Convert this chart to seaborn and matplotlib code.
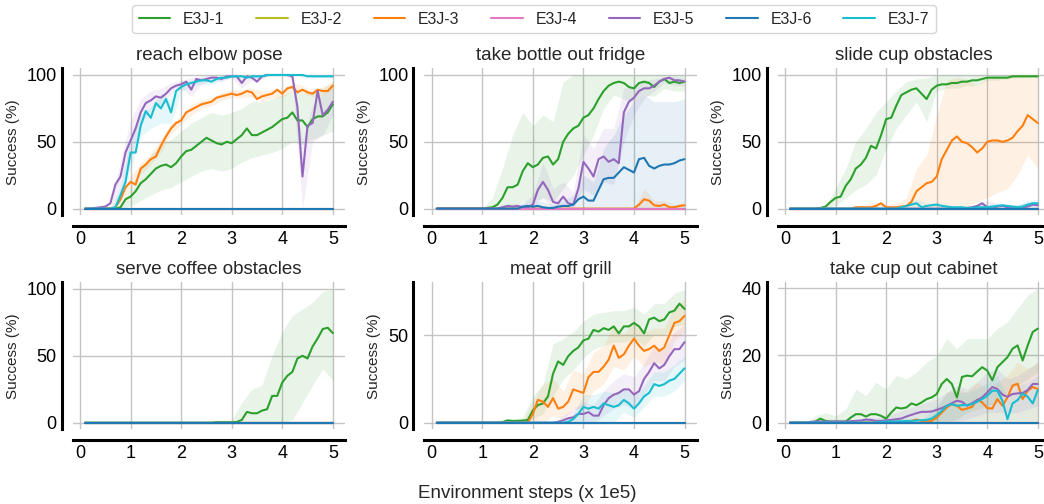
import numpy as np
import pandas as pd
import matplotlib
matplotlib.use("Agg")
import matplotlib.pyplot as plt
import seaborn as sns
from matplotlib.lines import Line2D

# ---------------------------------------------------------------- data
# environment steps (x 1e5) for the mean curves and for the spread bands
STEPS = np.round(np.arange(1, 51) * 0.1, 1)
BAND_STEPS = np.round(np.arange(1, 26) * 0.2, 1)

METHODS = ["E3J-1", "E3J-2", "E3J-3", "E3J-4", "E3J-5", "E3J-6", "E3J-7"]
TASKS = ["reach elbow pose", "take bottle out fridge", "slide cup obstacles",
         "serve coffee obstacles", "meat off grill", "take cup out cabinet"]

ZERO_LINE = [0.0] * 50
ZERO_BAND = [0.0] * 25

# reach elbow pose
REACH_E3J1 = [0, 0, 0, 0, 0, 0, 0, 1, 7, 9,
              13, 19, 22, 26, 30, 32, 33, 31, 34, 39,
              43, 44, 47, 50, 53, 51, 49, 48, 50, 49,
              52, 55, 60, 55, 55, 57, 59, 61, 64, 67,
              68, 72, 66, 66, 61, 67, 69, 69, 72, 78]
REACH_E3J3 = [0, 0, 0, 0, 0, 0, 1, 7, 16, 20,
              18, 30, 33, 37, 39, 47, 54, 60, 64, 66,
              72, 74, 76, 78, 79, 80, 83, 84, 85, 86,
              85, 86, 88, 87, 82, 84, 85, 86, 89, 86,
              90, 91, 87, 89, 87, 86, 89, 88, 88, 92]
REACH_E3J5 = [0, 0, 0.5, 1, 1.5, 4, 18, 24, 42, 51,
              60, 72, 79, 81, 84, 83, 86, 90, 92, 93,
              95, 89, 97, 96, 97, 98, 98, 97, 99, 99,
              99, 94, 99, 98, 95, 99, 100, 100, 100, 100,
              100, 99, 76, 24, 62, 64, 88, 70, 74, 80]
REACH_E3J7 = [0, 0, 0, 0, 0, 0, 1, 10, 20, 42,
              42, 62, 73, 68, 79, 75, 82, 72, 88, 91,
              93, 94, 95, 96, 96, 95, 97, 98, 98, 99,
              99, 99, 98, 99, 99, 99, 100, 100, 100, 100,
              100, 100, 100, 100, 99, 99, 99, 99, 99, 99]
REACH_E3J1_LO = [0, 0, 0, 0, 2, 6, 10, 14, 16, 20, 24, 28, 30, 28, 30,
                 35, 38, 40, 42, 45, 50, 48, 52, 55, 58]
REACH_E3J1_HI = [0, 0, 0, 3, 16, 30, 40, 48, 52, 58, 64, 68, 72, 70, 72,
                 75, 80, 80, 82, 85, 88, 86, 88, 90, 95]
REACH_E3J3_LO = [0, 0, 0, 4, 16, 26, 33, 42, 56, 63, 70, 75, 77, 81, 83,
                 83, 84, 80, 83, 83, 88, 86, 84, 85, 89]
REACH_E3J3_HI = [0, 0, 0, 10, 24, 34, 41, 52, 64, 69, 78, 81, 83, 87, 89,
                 89, 90, 88, 89, 89, 94, 92, 88, 91, 95]
REACH_E3J5_LO = [0, 0, 0, 12, 38, 62, 74, 78, 86, 90, 84, 93, 96, 95, 98,
                 90, 96, 97, 100, 100, 97, 0, 50, 55, 70]
REACH_E3J5_HI = [0, 0, 1, 36, 66, 82, 88, 90, 94, 96, 98, 99, 100, 99, 100,
                 98, 100, 100, 100, 100, 100, 50, 78, 86, 90]
REACH_E3J7_LO = [0, 0, 0, 4, 30, 54, 60, 64, 64, 87, 92, 93, 93, 96, 98,
                 98, 97, 98, 100, 100, 100, 99, 98, 98, 98]
REACH_E3J7_HI = [0, 0, 0, 16, 54, 70, 76, 86, 82, 95, 96, 98, 97, 99, 100,
                 100, 99, 100, 100, 100, 100, 100, 100, 100, 100]

# take bottle out fridge
BOTTLE_E3J1 = [0, 0, 0, 0, 0, 0, 0, 0, 0, 0,
               0.5, 1, 3, 8, 16, 16, 18, 28, 34, 31,
               33, 38, 39, 33, 37, 50, 56, 60, 62, 68,
               70, 75, 82, 88, 92, 94, 95, 94, 91, 90,
               94, 95, 94, 91, 95, 97, 94, 95, 94, 95]
BOTTLE_E3J3 = [0] * 40 + [3, 7, 6, 2.5, 2, 3, 1, 1, 2, 2.5]
BOTTLE_E3J5 = [0, 0, 0, 0, 0, 0, 0, 0, 0, 0,
               0, 0, 0, 1, 2, 1.5, 2, 1, 1, 3,
               14, 20, 14, 5, 4, 9, 4, 3, 15, 35,
               30, 24, 37, 39, 35, 37, 34, 72, 80, 83,
               88, 90, 90, 92, 95, 97, 98, 96, 96, 95]
BOTTLE_E3J6 = [0, 0, 0, 0, 0, 0, 0, 0, 0, 0,
               0, 0, 0, 0, 0, 0, 0, 1.5, 2, 1.5,
               2, 1, 0.5, 0.5, 1.5, 2, 2, 3, 7, 9,
               6, 6, 14, 22, 23, 23, 27, 31, 29, 27,
               37, 38, 32, 30, 32, 33, 33, 34, 36, 37]
BOTTLE_E3J1_LO = [0, 0, 0, 0, 0, 0, 0, 2, 5, 5, 8, 5, 15, 25, 40,
                  55, 75, 85, 82, 80, 85, 84, 90, 88, 88]
BOTTLE_E3J1_HI = [0, 0, 0, 0, 0, 8, 30, 55, 72, 62, 70, 65, 95, 100, 100,
                  100, 100, 100, 100, 100, 100, 100, 100, 100, 100]
BOTTLE_E3J3_HI = [0] * 20 + [15, 6, 6, 3, 5]
BOTTLE_E3J5_LO = [0, 0, 0, 0, 0, 0, 0, 0, 0, 0, 8, 0, 2, 0, 15,
                  10, 20, 18, 50, 70, 82, 88, 94, 92, 92]
BOTTLE_E3J5_HI = [0, 0, 0, 0, 0, 0, 3, 4, 4, 10, 35, 15, 20, 12, 55,
                  45, 60, 60, 90, 92, 96, 97, 99, 99, 98]
BOTTLE_E3J6_HI = [0, 0, 0, 0, 0, 0, 0, 0, 4, 6, 5, 3, 6, 10, 25,
                  20, 45, 55, 70, 80, 85, 80, 80, 80, 82]

# slide cup obstacles
SLIDE_E3J1 = [0, 0, 0, 0, 0, 0, 0.5, 1.5, 5, 8,
              9, 17, 22, 30, 33, 38, 47, 45, 55, 67,
              68, 77, 85, 87, 89, 90, 86, 82, 89, 92,
              93, 93, 94, 94, 95, 95, 96, 96, 97, 98,
              98, 98, 98, 98, 99, 99, 99, 99, 99, 99]
SLIDE_E3J3 = [0, 0, 0, 0, 0, 0, 0, 0, 0, 0,
              0, 0, 0, 1, 1, 1, 1, 2, 4, 1,
              1, 1, 1.5, 2, 5, 13, 16, 19, 20, 24,
              37, 44, 51, 54, 50, 49, 46, 42, 45, 50,
              51, 51, 50, 51, 53, 58, 62, 70, 67, 64]
SLIDE_E3J5 = [0] * 35 + [0.5, 1, 2, 4, 1, 0.5, 1.5, 2, 1, 0.5,
                         0.5, 1, 1.5, 3, 2.5]
SLIDE_E3J7 = [0] * 22 + [1, 2, 3, 4, 1, 2, 2.5, 3, 2, 1.5,
                         1, 1, 1, 0.5, 0.5, 1, 1, 1, 1.5, 2,
                         2.5, 2, 1.5, 1, 1.5, 3, 4, 4]
SLIDE_E3J1_LO = [0, 0, 0, 0, 2, 8, 14, 18, 25, 45, 60, 70, 80, 65, 88,
                 90, 90, 92, 92, 96, 96, 97, 98, 98, 98]
SLIDE_E3J1_HI = [0, 0, 0, 2, 15, 30, 50, 60, 72, 80, 88, 95, 97, 98, 100,
                 100, 100, 100, 100, 100, 100, 100, 100, 100, 100]
SLIDE_E3J3_LO = [0] * 17 + [2, 5, 8, 12, 15, 25, 40, 30]
SLIDE_E3J3_HI = [0, 0, 0, 0, 0, 0, 2, 3, 5, 3, 4, 8, 30, 40, 70,
                 96, 98, 97, 92, 98, 99, 99, 99, 100, 100]
SLIDE_E3J5_HI = [0] * 17 + [2, 3, 6, 4, 3, 3, 5, 4]
SLIDE_E3J7_HI = [0] * 11 + [3, 7, 4, 5, 3, 2, 2, 3, 3, 4, 3, 3, 6, 7]

# serve coffee obstacles
COFFEE_E3J1 = [0] * 26 + [0.3, 0.3, 0.3, 0.3, 0.5, 2, 8, 7, 7, 9,
                          10, 20, 20, 30, 35, 38, 48, 50, 48, 57,
                          63, 70, 71, 67]
COFFEE_E3J1_LO = [0] * 20 + [2, 15, 28, 40, 32]
COFFEE_E3J1_HI = [0] * 14 + [2, 15, 25, 28, 50, 68, 80, 85, 90, 98, 100]

# meat off grill
GRILL_E3J1 = [0] * 13 + [0.3, 1.3, 1, 1, 1.2, 1.5, 7,
                         10, 11, 15, 28, 35, 33, 38, 41, 43, 47,
                         48, 53, 52, 54, 53, 55, 51, 55, 55, 57,
                         55, 51, 59, 60, 58, 59, 63, 64, 68, 65]
GRILL_E3J3 = [0] * 19 + [5,
                         13, 12, 9, 14, 8, 9, 12, 19, 18, 17,
                         26, 29, 29, 32, 36, 44, 37, 39, 44, 48,
                         44, 41, 42, 44, 41, 43, 50, 57, 58, 61]
GRILL_E3J5 = [0] * 24 + [0.5, 1.3, 2.5, 3, 5, 5,
                         6, 4, 4, 10, 14, 16, 17, 19, 19, 16,
                         18, 25, 29, 34, 31, 33, 38, 42, 42, 46]
GRILL_E3J7 = [0] * 26 + [0.5, 2, 5, 9,
                         8, 9, 8, 11, 10, 9, 10, 13, 11, 8,
                         11, 15, 17, 22, 21, 22, 24, 25, 28, 31]
GRILL_E3J1_LO = [0] * 9 + [2, 5, 15, 25, 30, 37, 42, 44, 46, 46, 48, 44,
                           50, 50, 55, 56]
GRILL_E3J1_HI = [0] * 7 + [2, 3, 15, 22, 45, 48, 52, 58, 62, 63, 64, 64,
                           66, 62, 68, 68, 74, 76]
GRILL_E3J3_LO = [0] * 11 + [4, 2, 8, 8, 18, 22, 32, 30, 38, 32, 35, 33, 47, 52]
GRILL_E3J3_HI = [0] * 9 + [12, 22, 25, 18, 30, 28, 40, 44, 56, 50, 58, 52,
                           54, 54, 67, 70]
GRILL_E3J5_LO = [0] * 16 + [4, 8, 10, 8, 16, 24, 24, 32, 36]
GRILL_E3J5_HI = [0] * 12 + [4, 8, 12, 10, 18, 24, 28, 26, 34, 44, 42, 52, 56]
GRILL_E3J7_LO = [0] * 18 + [6, 3, 9, 15, 15, 18, 24]
GRILL_E3J7_HI = [0] * 13 + [5, 16, 16, 18, 17, 20, 15, 21, 29, 29, 33, 38]

# take cup out cabinet
CABINET_E3J1 = [0, 0, 0, 0, 0, 0.3, 1.2, 0.5, 0.3, 0.3,
                0.3, 0.3, 1.5, 2.5, 2.5, 1.8, 2.5, 2.5, 2, 1.2,
                3, 4.5, 4.2, 4.5, 5.7, 5.2, 6, 7, 7.5, 8.5,
                11.5, 13, 11.5, 7.5, 13.6, 14, 13.8, 15.2, 16.5, 15.5,
                12.6, 16.5, 18, 19.5, 22, 23, 18.5, 23, 27, 28]
CABINET_E3J3 = [0] * 24 + [0.5, 0.9, 0.5, 0.3, 0.5, 1.5,
                           3, 4.5, 5.5, 5, 3.8, 4.2, 4.7, 6.8, 6, 4.3,
                           4.2, 7, 5, 7.5, 11, 11.6, 7, 9.5, 10.6, 10]
CABINET_E3J5 = [0, 0, 0, 0, 0.2, 0.3, 0.3, 0.3, 0.3, 0.3,
                0.3, 0.3, 0.4, 0.5, 0.6, 0.9, 0.8, 0.5, 0.5, 0.7,
                0.8, 1, 1.2, 1.8, 2.3, 2.8, 3.2, 3.2, 3.3, 3.8,
                4.3, 5, 5.8, 6.5, 6.2, 5, 5.8, 6.7, 7.5, 9,
                10.6, 10, 8.3, 7.7, 8.5, 8.7, 8.8, 9.7, 11.5, 11.5]
CABINET_E3J7 = [0] * 18 + [0.2, 0.3,
                           0.3, 0.4, 0.4, 0.5, 0.5, 0.6, 0.7, 0.8, 1.2, 2.2,
                           3.5, 5, 5.5, 5, 5.2, 5.2, 5.5, 6.2, 7, 8,
                           9.5, 9.5, 6.5, 1, 5.7, 6.7, 8.7, 7.7, 5.7, 9.7]
CABINET_E3J1_LO = [0] * 16 + [1, 3, 4, 5, 6, 9, 11, 13, 15]
CABINET_E3J1_HI = [0, 0, 2, 3, 2, 4, 10, 8, 12, 10, 14, 13, 15, 18, 20,
                   25, 22, 25, 25, 25, 28, 30, 34, 38, 40]
CABINET_E3J3_HI = [0] * 14 + [4, 9, 10, 9, 12, 10, 12, 14, 18, 16, 18]
CABINET_E3J5_LO = [0] * 17 + [1, 2, 3, 3, 3, 3, 4, 5]
CABINET_E3J5_HI = [0, 0, 1, 1, 1, 1, 1, 1.5, 1.5, 2, 3, 4, 5, 6, 7,
                   9, 11, 10, 12, 15, 16, 13, 14, 16, 18]
CABINET_E3J7_HI = [0] * 13 + [2, 5, 9, 9, 9, 10, 12, 14, 7, 11, 12, 14]

# ---------------------------------------------------------------- assembly
PANELS = [
    {"E3J-1": REACH_E3J1, "E3J-2": ZERO_LINE, "E3J-3": REACH_E3J3,
     "E3J-4": ZERO_LINE, "E3J-5": REACH_E3J5, "E3J-6": ZERO_LINE,
     "E3J-7": REACH_E3J7},
    {"E3J-1": BOTTLE_E3J1, "E3J-2": ZERO_LINE, "E3J-3": BOTTLE_E3J3,
     "E3J-4": ZERO_LINE, "E3J-5": BOTTLE_E3J5, "E3J-6": BOTTLE_E3J6,
     "E3J-7": ZERO_LINE},
    {"E3J-1": SLIDE_E3J1, "E3J-2": ZERO_LINE, "E3J-3": SLIDE_E3J3,
     "E3J-4": ZERO_LINE, "E3J-5": SLIDE_E3J5, "E3J-6": ZERO_LINE,
     "E3J-7": SLIDE_E3J7},
    {"E3J-1": COFFEE_E3J1, "E3J-2": ZERO_LINE, "E3J-3": ZERO_LINE,
     "E3J-4": ZERO_LINE, "E3J-5": ZERO_LINE, "E3J-6": ZERO_LINE,
     "E3J-7": ZERO_LINE},
    {"E3J-1": GRILL_E3J1, "E3J-2": ZERO_LINE, "E3J-3": GRILL_E3J3,
     "E3J-4": ZERO_LINE, "E3J-5": GRILL_E3J5, "E3J-6": ZERO_LINE,
     "E3J-7": GRILL_E3J7},
    {"E3J-1": CABINET_E3J1, "E3J-2": ZERO_LINE, "E3J-3": CABINET_E3J3,
     "E3J-4": ZERO_LINE, "E3J-5": CABINET_E3J5, "E3J-6": ZERO_LINE,
     "E3J-7": CABINET_E3J7},
]
BANDS = [
    {"E3J-1": (REACH_E3J1_LO, REACH_E3J1_HI), "E3J-3": (REACH_E3J3_LO, REACH_E3J3_HI),
     "E3J-5": (REACH_E3J5_LO, REACH_E3J5_HI), "E3J-7": (REACH_E3J7_LO, REACH_E3J7_HI)},
    {"E3J-1": (BOTTLE_E3J1_LO, BOTTLE_E3J1_HI), "E3J-3": (ZERO_BAND, BOTTLE_E3J3_HI),
     "E3J-5": (BOTTLE_E3J5_LO, BOTTLE_E3J5_HI), "E3J-6": (ZERO_BAND, BOTTLE_E3J6_HI)},
    {"E3J-1": (SLIDE_E3J1_LO, SLIDE_E3J1_HI), "E3J-3": (SLIDE_E3J3_LO, SLIDE_E3J3_HI),
     "E3J-5": (ZERO_BAND, SLIDE_E3J5_HI), "E3J-7": (ZERO_BAND, SLIDE_E3J7_HI)},
    {"E3J-1": (COFFEE_E3J1_LO, COFFEE_E3J1_HI)},
    {"E3J-1": (GRILL_E3J1_LO, GRILL_E3J1_HI), "E3J-3": (GRILL_E3J3_LO, GRILL_E3J3_HI),
     "E3J-5": (GRILL_E3J5_LO, GRILL_E3J5_HI), "E3J-7": (GRILL_E3J7_LO, GRILL_E3J7_HI)},
    {"E3J-1": (CABINET_E3J1_LO, CABINET_E3J1_HI), "E3J-3": (ZERO_BAND, CABINET_E3J3_HI),
     "E3J-5": (CABINET_E3J5_LO, CABINET_E3J5_HI), "E3J-7": (ZERO_BAND, CABINET_E3J7_HI)},
]
Y_TICKS = [[0, 50, 100], [0, 50, 100], [0, 50, 100],
           [0, 50, 100], [0, 50], [0, 20, 40]]
Y_LIMITS = [(-5, 105), (-5, 105), (-5, 105),
            (-5, 105), (-3.8, 80.2), (-2.0, 41.8)]

tab = sns.color_palette("tab10")
COLORS = {"E3J-1": tab[2], "E3J-2": tab[8], "E3J-3": tab[1], "E3J-4": tab[6],
          "E3J-5": tab[4], "E3J-6": tab[0], "E3J-7": tab[9]}
# stacking order: E3J-4 over E3J-7, and E3J-6 last so its flat line sits on top
DRAW_ORDER = ["E3J-1", "E3J-2", "E3J-3", "E3J-5", "E3J-7", "E3J-4", "E3J-6"]

# ---------------------------------------------------------------- figure
sns.set_theme(style="whitegrid")
plt.rcParams["font.family"] = ["Liberation Sans", "DejaVu Sans"]
plt.rcParams.update({
    "grid.color": "#c4c4c4",
    "grid.linewidth": 1.0,
    "axes.edgecolor": "black",
    "xtick.major.size": 0,
    "ytick.major.size": 0,
})

W, H = 1044, 504
fig = plt.figure(figsize=(W / 100, H / 100), dpi=100)

col_left = [72.7, 424.4, 777.7]
row_top = [68.3, 282.3]
ax_w, ax_h = 272.5, 147.0

for i, task in enumerate(TASKS):
    r, c = divmod(i, 3)
    ax = fig.add_axes([col_left[c] / W, 1 - (row_top[r] + ax_h) / H, ax_w / W, ax_h / H])

    for m in DRAW_ORDER:
        if m in BANDS[i]:
            lo, hi = BANDS[i][m]
            ax.fill_between(BAND_STEPS, lo, hi, color=COLORS[m], alpha=0.11,
                            linewidth=0, zorder=1)

    df = pd.concat([pd.DataFrame({"step": STEPS, "success": PANELS[i][m], "method": m})
                    for m in DRAW_ORDER], ignore_index=True)
    sns.lineplot(data=df, x="step", y="success", hue="method", hue_order=DRAW_ORDER,
                 palette=COLORS, linewidth=1.5, errorbar=None, legend=False, ax=ax,
                 zorder=3)

    ax.set_xlim(-0.145, 5.245)
    ax.set_ylim(*Y_LIMITS[i])
    ax.set_xticks(range(6))
    ax.set_yticks(Y_TICKS[i])
    ax.tick_params(labelsize=13, pad=3.5, colors="black")
    ax.set_title(task, fontsize=13.5, pad=6)
    ax.set_xlabel("")
    ax.set_ylabel("Success (%)", fontsize=11, labelpad=5)
    ax.grid(True, zorder=0)
    sns.despine(ax=ax, offset=8)
    for side in ("left", "bottom"):
        ax.spines[side].set_linewidth(2.2)
        ax.spines[side].set_color("black")

fig.text(527 / W, 1 - 494 / H, "Environment steps (x 1e5)", ha="center",
         va="center", fontsize=13.5)

handles = [Line2D([], [], color=COLORS[m], linewidth=1.5) for m in METHODS]
fig.legend(handles, METHODS, loc="center", bbox_to_anchor=(534 / W, 1 - 19 / H),
           ncol=7, fontsize=11.4, frameon=True, edgecolor="0.8", fancybox=True,
           handlelength=2.0, columnspacing=2.0)

fig.savefig("out.png", dpi=100)
